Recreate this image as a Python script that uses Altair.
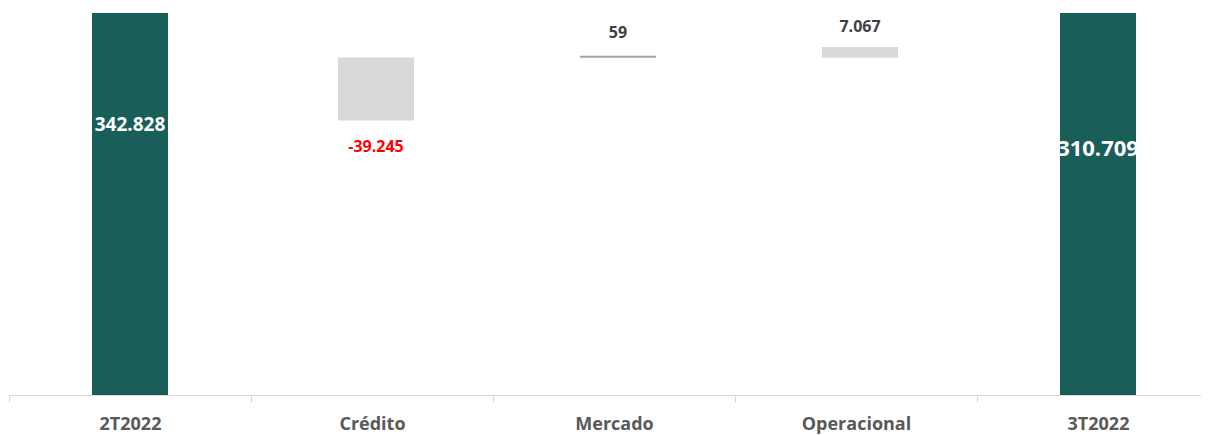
import json
import altair as alt
import pandas as pd

categories = ["2T2022", "Crédito", "Mercado", "Operacional", "3T2022"]
values = [342828, -39245, 59, 7067, 310709]
labels = ["342.828", "-39.245", "59", "7.067", "310.709"]
# floating bar extents (data units)
bar_start = [0, 172900, 213100, 212500, 0]
bar_end = [342828, 212600, 213159, 219300, 310709]
label_pos = [170100, 156200, 228100, 231800, 155300]
kinds = ["total", "delta", "flat", "delta", "total"]

df = pd.DataFrame({
    "idx": list(range(len(categories))),
    "cat": categories,
    "value": values,
    "label": labels,
    "start": bar_start,
    "end": bar_end,
    "lpos": label_pos,
    "kind": kinds,
})

PLOT_W = 1192
STEP = 242
SHIFT = 4  # Excel draws the floating bars slightly right of the band centre
xscale = alt.Scale(domain=[-0.5, -0.5 + PLOT_W / STEP], nice=False, zero=False, padding=0)
boundaries = [i - 0.5 for i in range(len(categories))]
label_expr = json.dumps(categories, ensure_ascii=False) + "[datum.value + 0.5] || ''"

xenc = alt.X(
    "idx:Q",
    title=None,
    scale=xscale,
    axis=alt.Axis(
        values=boundaries,
        labelExpr=label_expr,
        labelOffset=STEP / 2,
        labelOverlap=False,
        labelFlush=False,
        labelBound=False,
        grid=False,
    ),
)

yscale = alt.Scale(domain=[0, 240700], nice=False, zero=False, padding=0)

base = alt.Chart(df).encode(x=xenc)

totals = base.transform_filter(alt.datum.kind == "total").mark_bar(
    clip=True, width=76, color="#1a5e59"
).encode(
    y=alt.Y("start:Q", scale=yscale, axis=None),
    y2="end:Q",
)

deltas = base.transform_filter(alt.datum.kind == "delta").mark_bar(
    clip=True, width=76, color="#d9d9d9", xOffset=SHIFT
).encode(
    y=alt.Y("start:Q", scale=yscale),
    y2="end:Q",
)

flat = base.transform_filter(alt.datum.kind == "flat").mark_tick(
    thickness=2, size=76, color="#7f7f7f", orient="horizontal", xOffset=SHIFT
).encode(y=alt.Y("end:Q", scale=yscale))

def lbl(cat, color, size, dx=0):
    return base.transform_filter(alt.datum.cat == cat).mark_text(
        font="Open Sans", fontWeight="bold", fontSize=size, color=color,
        baseline="middle", align="center", dx=dx,
    ).encode(y=alt.Y("lpos:Q", scale=yscale), text="label:N")

texts = (
    lbl("2T2022", "#ffffff", 19)
    + lbl("Crédito", "#ff0000", 16, SHIFT)
    + lbl("Mercado", "#404040", 16, SHIFT)
    + lbl("Operacional", "#404040", 16, SHIFT)
    + lbl("3T2022", "#ffffff", 22)
)

chart = alt.layer(totals, deltas, flat, texts).properties(
    width=PLOT_W,
    height=382,
    autosize=alt.AutoSizeParams(type="none"),
    padding={"left": 1, "top": 5, "right": 0, "bottom": 40},
).configure_view(stroke=None).configure_axisX(
    domainColor="#d9d9d9",
    domainWidth=1,
    tickColor="#d9d9d9",
    tickSize=7,
    labelFont="Open Sans",
    labelFontWeight="bold",
    labelFontSize=18,
    labelColor="#595959",
    labelPadding=13,
    labelAngle=0,
    labelAlign="center",
)

chart.save("out.html", embed_options={"renderer": "svg", "actions": False})
